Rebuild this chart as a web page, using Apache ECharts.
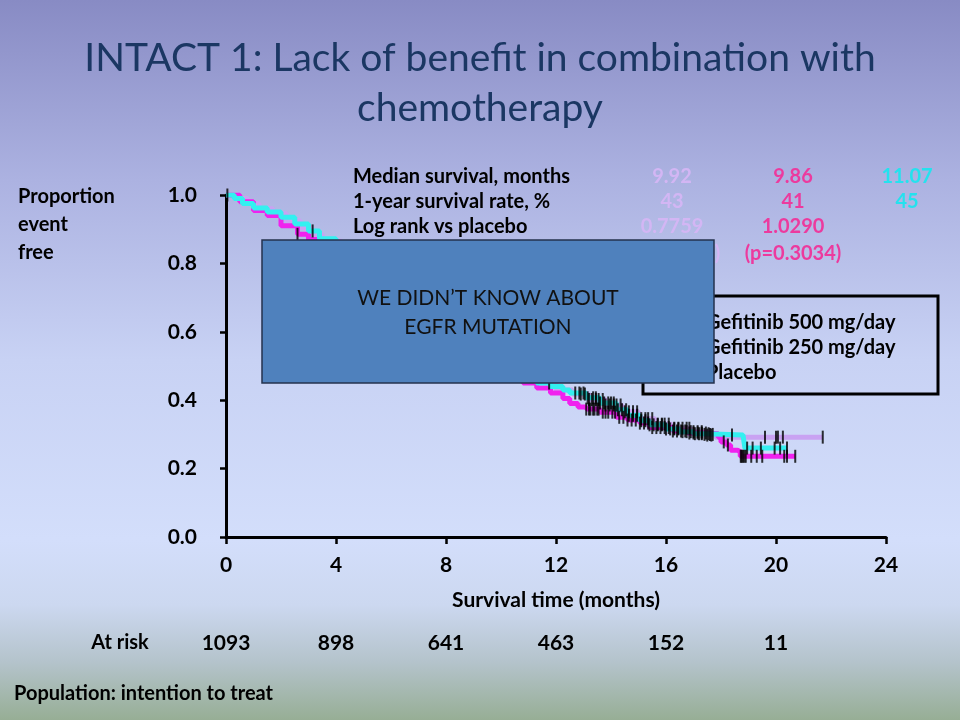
<!DOCTYPE html>
<html>
<head>
<meta charset="utf-8">
<script src="https://cdn.jsdelivr.net/npm/echarts@6/dist/echarts.min.js"></script>
<style>
html,body{margin:0;padding:0;}
#chart{width:960px;height:720px;}
</style>
</head>
<body>
<div id="chart"></div>
<script>
// ---------- data ----------
var seriesNames = ['Gefitinib 500 mg/day', 'Gefitinib 250 mg/day', 'Placebo'];
var seriesColors = ['#C9A2F2', '#F022EE', '#33F0F0'];

// Kaplan-Meier step points [month, proportion event free]
var gef500 = [[0,1],[0.4,0.99],[0.8,0.975],[1.2,0.96],[1.7,0.945],[2.2,0.925],[2.7,0.905],[3.1,0.885],[3.5,0.865],[4.2,0.82],[5,0.77],[6,0.71],[7,0.65],[8,0.6],[9,0.545],[10,0.495],[11,0.455],[12,0.43],[12.6,0.418],[13.2,0.402],[13.8,0.386],[14.4,0.366],[15,0.346],[15.6,0.33],[16.2,0.318],[16.9,0.308],[17.4,0.3],[17.8,0.292],[21.7,0.292]];
var gef250 = [[0,1],[0.5,0.98],[1.0,0.955],[1.5,0.94],[2.0,0.91],[2.6,0.885],[3.0,0.87],[3.5,0.855],[4,0.82],[5,0.76],[6,0.7],[7,0.64],[8,0.59],[9,0.53],[10,0.48],[10.8,0.45],[11.3,0.436],[11.8,0.421],[12.25,0.405],[12.5,0.39],[12.8,0.38],[13.1,0.374],[13.6,0.365],[14.2,0.35],[14.6,0.342],[15.05,0.333],[15.4,0.32],[16.25,0.31],[16.8,0.304],[17.5,0.302],[17.9,0.292],[18.0,0.278],[18.2,0.269],[18.35,0.254],[18.6,0.249],[18.7,0.236],[20.7,0.236]];
var placebo = [[0,1],[0.3,0.99],[0.6,0.975],[1.0,0.962],[1.5,0.95],[2.0,0.935],[2.5,0.915],[3.0,0.895],[3.4,0.872],[4,0.84],[5,0.78],[6,0.72],[7,0.66],[8,0.61],[9,0.55],[10,0.5],[10.8,0.465],[11.3,0.45],[11.8,0.44],[12.25,0.43],[12.5,0.421],[13.1,0.407],[13.6,0.392],[14.2,0.372],[14.6,0.356],[15.05,0.34],[15.4,0.328],[16.0,0.316],[16.5,0.308],[17.0,0.302],[17.5,0.298],[18.8,0.298],[18.87,0.26],[20.4,0.26]];

// censoring times (months)
var censor500 = [0.05,12.9,13.05,13.2,13.3,13.45,13.55,13.7,13.8,13.95,14.1,14.2,14.35,14.5,14.65,14.8,14.95,15.1,15.25,15.35,15.5,15.7,15.85,15.95,16.1,16.3,16.45,16.6,16.75,16.85,17.0,17.15,17.3,17.4,17.6,17.7,19.6,20.0,20.07,20.25,21.7];
var censor250 = [2.6,13.1,13.2,13.25,13.35,13.4,13.5,13.55,13.7,13.8,13.9,14.05,14.15,14.3,14.45,14.6,14.75,14.9,15.05,15.2,15.35,15.5,15.65,15.8,15.95,16.1,16.25,16.4,16.55,16.7,16.85,17.0,17.15,17.3,17.45,17.55,18.1,18.25,18.72,18.75,18.8,18.85,18.9,19.1,19.3,19.5,20.3,20.4,20.7];
var censorPlacebo = [3.15,11.75,12.7,12.85,13.0,13.15,13.35,13.45,13.6,13.75,13.9,14.0,14.1,14.25,14.4,14.55,14.65,14.8,14.95,15.1,15.25,15.4,15.55,15.7,15.85,16.0,16.15,16.3,16.45,16.6,16.75,16.9,17.05,17.2,17.3,17.5,17.65,18.4,18.95,19.15,19.45,19.95,20.15,20.4];

var xTicks = [0,4,8,12,16,20,24];
var atRisk = [1093, 898, 641, 463, 152, 11];
var yTicks = [0,0.2,0.4,0.6,0.8,1.0];

var tableRows = ['Median survival, months', '1-year survival rate, %', 'Log rank vs placebo', ''];
var col500 = ['9.92', '43', '0.7759', '(p=0.4563)'];
var col250 = ['9.86', '41', '1.0290', '(p=0.3034)'];
var colPlacebo = ['11.07', '45', '', ''];

// ---------- helpers ----------
function stepValue(curve, t) {
  var v = curve[0][1];
  for (var i = 0; i < curve.length; i++) { if (curve[i][0] <= t) v = curve[i][1]; }
  return v;
}
function marks(curve, times) { return times.map(function (t) { return [t, stepValue(curve, t)]; }); }

var FONT = 'Lato';
var chart = echarts.init(document.getElementById('chart'));

var graphics = [];
// legend frame
graphics.push({ type: 'rect', shape: { x: 643, y: 296, width: 295, height: 98 }, style: { fill: 'none', stroke: '#000', lineWidth: 3 }, z: 50 });
// blue annotation box
graphics.push({ type: 'rect', shape: { x: 262, y: 240, width: 452, height: 143 }, style: { fill: '#4F81BD', stroke: '#24324E', lineWidth: 1.5 }, z: 100 });
graphics.push({ type: 'text', z: 101, style: { text: 'WE DIDN\u2019T KNOW ABOUT', x: 488, y: 298, textAlign: 'center', textVerticalAlign: 'middle', font: '21px ' + FONT, fill: '#111' } });
graphics.push({ type: 'text', z: 101, style: { text: 'EGFR MUTATION', x: 488, y: 327, textAlign: 'center', textVerticalAlign: 'middle', font: '21px ' + FONT, fill: '#111' } });
// table
var rowY = [177, 202, 227, 254];
for (var i = 0; i < 4; i++) {
  graphics.push({ type: 'text', z: 40, style: { text: tableRows[i], x: 353, y: rowY[i], textVerticalAlign: 'middle', font: 'bold 20px ' + FONT, fill: '#000' } });
  graphics.push({ type: 'text', z: 40, style: { text: col500[i], x: 672, y: rowY[i], textAlign: 'center', textVerticalAlign: 'middle', font: 'bold 20px ' + FONT, fill: '#D3B6F4' } });
  graphics.push({ type: 'text', z: 40, style: { text: col250[i], x: 793, y: rowY[i], textAlign: 'center', textVerticalAlign: 'middle', font: 'bold 20px ' + FONT, fill: '#EC3A9E' } });
  graphics.push({ type: 'text', z: 40, style: { text: colPlacebo[i], x: 907, y: rowY[i], textAlign: 'center', textVerticalAlign: 'middle', font: 'bold 20px ' + FONT, fill: '#24E2EE' } });
}
// y axis name
graphics.push({ type: 'text', z: 40, style: { text: 'Proportion\nevent\nfree', x: 18, y: 183, font: 'bold 20px ' + FONT, fill: '#000', lineHeight: 28 } });
// at risk label
graphics.push({ type: 'text', z: 40, style: { text: 'At risk', x: 120, y: 643, textAlign: 'center', textVerticalAlign: 'middle', font: 'bold 20px ' + FONT, fill: '#000' } });
// population note
graphics.push({ type: 'text', z: 40, style: { text: 'Population: intention to treat', x: 14, y: 694, textVerticalAlign: 'middle', font: 'bold 20px ' + FONT, fill: '#000' } });

var lineSeries = [gef500, gef250, placebo].map(function (d, i) {
  return {
    name: seriesNames[i], type: 'line', step: 'end', data: d, showSymbol: false, symbol: 'none',
    lineStyle: { color: seriesColors[i], width: 5 }, itemStyle: { color: seriesColors[i] }, z: 3 + i, silent: true, animation: false
  };
});
var censorSeries = [[gef500, censor500], [gef250, censor250], [placebo, censorPlacebo]].map(function (p) {
  return { type: 'scatter', data: marks(p[0], p[1]), symbol: 'rect', symbolSize: [2, 13], itemStyle: { color: '#000' }, z: 10, silent: true, animation: false };
});

var option = {
  animation: false,
  backgroundColor: { type: 'linear', x: 0, y: 0, x2: 0, y2: 1, colorStops: [
    { offset: 0, color: '#888BC4' }, { offset: 0.25, color: '#ACB2E1' }, { offset: 0.5, color: '#C8D2F4' },
    { offset: 0.75, color: '#D3DEFB' }, { offset: 0.84, color: '#CCD8F0' }, { offset: 0.92, color: '#B4C3CB' }, { offset: 1, color: '#97AE95' } ] },
  title: { text: 'INTACT 1: Lack of benefit in combination with\nchemotherapy', left: 'center', top: 28,
    textStyle: { fontFamily: FONT, fontSize: 39, fontWeight: 'normal', color: '#1B3763', lineHeight: 50, align: 'center' } },
  legend: { data: seriesNames, orient: 'vertical', left: 656, top: 308, itemWidth: 40, itemHeight: 8, itemGap: 5, icon: 'rect',
    textStyle: { fontFamily: FONT, fontSize: 20, fontWeight: 'bold', color: '#000', lineHeight: 20 }, selectedMode: false },
  grid: { left: 226, right: 74, top: 195, bottom: 183, containLabel: false },
  xAxis: [
    { type: 'value', min: 0, max: 24, interval: 4, offset: 4,
      axisLine: { show: true, lineStyle: { color: '#000', width: 3 } },
      axisTick: { show: true, length: 7, lineStyle: { color: '#000', width: 2.5 } },
      axisLabel: { margin: 14, fontFamily: FONT, fontSize: 21, fontWeight: 'bold', color: '#000' },
      splitLine: { show: false },
      name: 'Survival time (months)', nameLocation: 'middle', nameGap: 49,
      nameTextStyle: { fontFamily: FONT, fontSize: 21, fontWeight: 'bold', color: '#000' } },
    { type: 'value', min: 0, max: 24, interval: 4, offset: 88, position: 'bottom',
      axisLine: { show: false }, axisTick: { show: false }, splitLine: { show: false },
      axisLabel: { margin: 8, fontFamily: FONT, fontSize: 21, fontWeight: 'bold', color: '#000',
        formatter: function (v) { var k = xTicks.indexOf(v); return (k >= 0 && k < atRisk.length) ? String(atRisk[k]) : ''; } } }
  ],
  yAxis: { type: 'value', min: 0, max: 1, interval: 0.2, offset: 8,
    axisLine: { show: true, lineStyle: { color: '#000', width: 3 } },
    axisTick: { show: true, length: 6, lineStyle: { color: '#000', width: 2.5 } },
    axisLabel: { margin: 21, fontFamily: FONT, fontSize: 21, fontWeight: 'bold', color: '#000', formatter: function (v) { return v.toFixed(1); } },
    splitLine: { show: false } },
  graphic: { elements: graphics },
  series: lineSeries.concat(censorSeries)
};
chart.setOption(option);
</script>
</body>
</html>
